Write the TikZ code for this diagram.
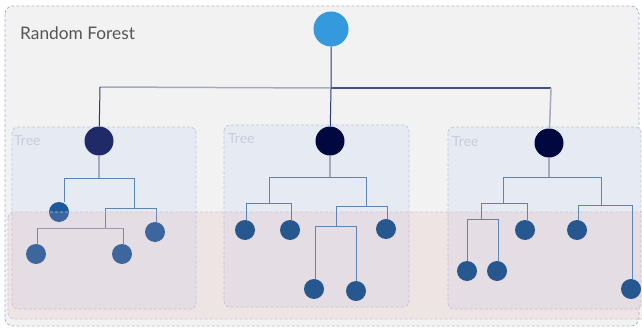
\documentclass[tikz,border=0pt]{standalone}
\usepackage{fontspec}
\setmainfont{Lato}
\begin{document}
\begin{tikzpicture}[x=1pt,y=-1pt]
\definecolor{bgfill}{HTML}{F2F2F2}
\definecolor{outerline}{HTML}{A9B6D2}
\definecolor{treefill}{HTML}{E6EAF2}
\definecolor{treeline}{HTML}{C3CADB}
\definecolor{bandfill}{RGB}{225,160,160}
\definecolor{titlegray}{HTML}{555555}
\definecolor{treelabel}{HTML}{C9CCD9}
\definecolor{toproot}{HTML}{3599DD}
\definecolor{root1}{HTML}{1F2A68}
\definecolor{root2}{HTML}{000840}
\definecolor{leafA}{HTML}{1C5A9E}
\definecolor{leafB}{HTML}{27578F}
\definecolor{navyline}{HTML}{2E3A78}
\definecolor{grayline}{HTML}{A6AABA}
\definecolor{blueline}{HTML}{5C85B6}
\tikzset{
  dot/.style={circle, inner sep=0pt, minimum size=20pt},
  rootdot/.style={circle, inner sep=0pt, minimum size=29pt},
  treebox/.style={draw=treeline, fill=treefill, dash pattern=on 3pt off 2pt, rounded corners=6pt, line width=0.8pt},
  bar/.style={draw=blueline, line width=1pt},
  stem/.style={draw=grayline, line width=1.2pt},
  tlabel/.style={anchor=base west, inner sep=0pt, text=treelabel, font=\fontsize{14}{16}\selectfont},
}
\useasboundingbox (0,0) rectangle (642,329);
\fill[white] (0,0) rectangle (642,329);
% outer box
\draw[fill=bgfill, draw=outerline, dash pattern=on 3pt off 2pt, rounded corners=8pt, line width=0.8pt] (5,6) rectangle (639,326);
\node[anchor=base west, inner sep=0pt, text=titlegray, font=\fontsize{17.3}{20}\selectfont] (title) at (20,40) {Random Forest};
% tree boxes
\draw[treebox] (12,127) rectangle (196,309);
\draw[treebox] (224,125) rectangle (409,307);
\draw[treebox] (448,127) rectangle (641,309);
\node[tlabel] (tl1) at (14,145) {Tree};
\node[tlabel] (tl2) at (228,143) {Tree};
\node[tlabel] (tl3) at (452,146) {Tree};

% top root and links
\node[rootdot, minimum size=35pt, fill=toproot] (r0) at (331,29) {};
\node[rootdot, fill=root1] (r1) at (99,141) {};
\node[rootdot, fill=root2] (r2) at (330,141) {};
\node[rootdot, fill=root2] (r3) at (549,143) {};
\coordinate (hL) at (100,87);
\coordinate (hM) at (331,88);
\coordinate (hR) at (551,88);
\draw[navyline, line width=1pt] (r0) -- (hM) -- (r2);
\draw[grayline, line width=1.5pt] (hM) -- (hL);
\draw[navyline, line width=1pt] (hL) -- (r1);
\draw[navyline!80!grayline, line width=1.2pt] (hM) -- (hR);
\draw[grayline, line width=1.5pt] (hR) -- (r3);

% ---------- tree 1 (below the band)
\node[dot, fill=leafA] (a1) at (59,212) {};
\node[dot, fill=leafA] (a2) at (155,232) {};
\node[dot, fill=leafA] (a3) at (36,254) {};
\node[dot, fill=leafA] (a4) at (122,254) {};
\coordinate (t1b) at (99,178);
\coordinate (t1l) at (64,178);
\coordinate (t1r) at (134,178);
\coordinate (t1rb) at (134,208);
\coordinate (t1rl) at (105,208);
\coordinate (t1rr) at (156,208);
\coordinate (t1c) at (105,228);
\coordinate (t1cl) at (37,228);
\coordinate (t1cr) at (123,228);
\draw[stem] (r1) -- (t1b);
\draw[bar] (t1l) -- (t1r) -- (t1rb);
\draw[bar] (t1l) -- (t1l |- a1.north);
\draw[bar] (t1rl) -- (t1rr) -- (t1rr |- a2.north);
\draw[bar] (t1rl) -- (t1c);
\draw[bar, draw=grayline!60!blueline] (t1cl) -- (t1cr);
\draw[bar] (t1cl) -- (t1cl |- a3.north);
\draw[bar] (t1cr) -- (t1cr |- a4.north);

% band over
\draw[fill=bandfill, fill opacity=0.17, draw=treeline, dash pattern=on 3pt off 2pt, rounded corners=6pt, line width=0.8pt] (8,212) rectangle (648,319);

% ---------- tree 2
\node[dot, fill=leafB] (b1) at (245,230) {};
\node[dot, fill=leafB] (b2) at (290,230) {};
\node[dot, fill=leafB] (b3) at (386,229) {};
\node[dot, fill=leafB] (b4) at (314,289) {};
\node[dot, fill=leafB] (b5) at (356,291) {};
\coordinate (t2b) at (330,177);
\coordinate (t2l) at (269,177);
\coordinate (t2r) at (366,177);
\coordinate (t2lb) at (269,203);
\coordinate (t2ll) at (246,203);
\coordinate (t2lr) at (291,203);
\coordinate (t2rb) at (366,206);
\coordinate (t2rl) at (336,206);
\coordinate (t2rr) at (387,206);
\coordinate (t2c) at (336,226);
\coordinate (t2cl) at (315,226);
\coordinate (t2cr) at (356,226);
\draw[stem] (r2) -- (t2b);
\draw[bar] (t2lb) -- (t2l) -- (t2r) -- (t2rb);
\draw[bar] (t2ll |- b1.north) -- (t2ll) -- (t2lr) -- (t2lr |- b2.north);
\draw[bar] (t2rl) -- (t2rr) -- (t2rr |- b3.north);
\draw[bar] (t2rl) -- (t2c);
\draw[bar] (t2cl |- b4.north) -- (t2cl) -- (t2cr) -- (t2cr |- b5.north);

% ---------- tree 3
\node[dot, fill=leafB] (c1) at (525,230) {};
\node[dot, fill=leafB] (c2) at (577,230) {};
\node[dot, fill=leafB] (c3) at (467,271) {};
\node[dot, fill=leafB] (c4) at (497,271) {};
\node[dot, fill=leafB] (c5) at (631,289) {};
\coordinate (t3b) at (549,177);
\coordinate (t3l) at (503,177);
\coordinate (t3r) at (601,177);
\coordinate (t3lb) at (503,203);
\coordinate (t3ll) at (481,203);
\coordinate (t3lr) at (527,203);
\coordinate (t3rb) at (601,205);
\coordinate (t3rl) at (578,205);
\coordinate (t3rr) at (632,205);
\coordinate (t3c) at (481,219);
\coordinate (t3cl) at (467,219);
\coordinate (t3cr) at (498,219);
\draw[stem] (r3) -- (t3b);
\draw[bar] (t3lb) -- (t3l) -- (t3r) -- (t3rb);
\draw[bar] (t3ll) -- (t3lr) -- (t3lr |- c1.north);
\draw[bar] (t3ll) -- (t3c);
\draw[bar] (t3cl |- c3.north) -- (t3cl) -- (t3cr) -- (t3cr |- c4.north);
\draw[bar] (t3rl |- c2.north) -- (t3rl) -- (t3rr) -- (t3rr |- c5.north);
\end{tikzpicture}
\end{document}
